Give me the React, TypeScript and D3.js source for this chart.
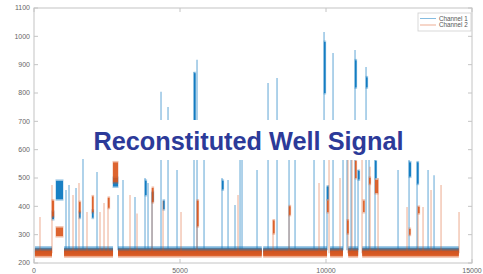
import * as d3 from 'd3'

const WIDTH = 483
const HEIGHT = 274
const BLUE = '#0072bd'
const ORANGE = '#d95319'
const AXIS = '#c4c4c4'

const X_TICKS = [0, 5000, 10000, 15000]
const Y_TICKS = [200, 300, 400, 500, 600, 700, 800, 900, 1000, 1100]

// recording extent and stretches where the baseline is absent (signal elevated)
const RUN: [number, number] = [30, 14550]
const BASE_GAPS: [number, number][] = [
  [616, 1030],
  [2706, 2877],
  [7800, 7850],
  [10035, 10140],
  [10580, 10760],
  [11100, 11240],
]

// baseline noise band [outer low, core low, core high, outer high]
const CH1_BAND: [number, number, number, number] = [230, 238, 252, 259]
const CH2_BAND: [number, number, number, number] = [219, 225, 244, 251]

// thin spikes: [sample, peak]
const CH1_SPIKES: [number, number][] = [
  [1096, 458], [1199, 475], [1439, 465], [1678, 567], [2158, 521],
  [2877, 440], [3048, 493], [3459, 433], [3802, 500], [3905, 482],
  [4042, 450], [4350, 804], [4590, 751], [4898, 528], [5480, 874],
  [5583, 917], [5823, 610], [6439, 500], [6645, 493], [6884, 405],
  [7056, 610], [7124, 610], [7638, 528], [8015, 835], [8323, 853],
  [8734, 610], [8940, 610], [9590, 610], [9933, 1015], [10035, 470],
  [10241, 941], [10583, 610], [10720, 610], [10857, 610], [10994, 952],
  [11097, 528], [11371, 892], [11474, 610], [11679, 610], [12467, 528],
  [12844, 610], [13118, 557], [13495, 528], [13700, 510],
]
const CH2_SPIKES: [number, number][] = [
  [205, 362], [616, 475], [1336, 440], [1541, 482], [1815, 380],
  [2261, 380], [2398, 412], [2535, 430], [3288, 440], [3528, 375],
  [4042, 465], [4419, 420], [5035, 380], [5583, 420], [6987, 440],
  [8186, 352], [8734, 400], [9761, 482], [10104, 600], [10480, 500],
  [10754, 600], [10891, 600], [11234, 600], [11508, 540], [11782, 500],
  [12775, 398], [13152, 400], [13323, 398], [13597, 458], [13940, 475],
  [14556, 380],
]

// dense plateaus: [start, end, low, high]
const CH1_BLOCKS: [number, number, number, number][] = [
  [616, 685, 355, 380], [753, 993, 425, 490], [1541, 1576, 360, 380],
  [1986, 2021, 360, 385], [2706, 2877, 470, 500], [3802, 3830, 440, 490],
  [4042, 4070, 420, 450], [4419, 4445, 390, 420], [5480, 5510, 700, 870],
  [6439, 6465, 460, 490], [9933, 9960, 800, 980], [10035, 10070, 425, 470],
  [10994, 11020, 820, 915], [11097, 11125, 495, 525], [11371, 11395, 820, 855],
  [11679, 11710, 500, 560], [12844, 12912, 505, 555], [13118, 13152, 480, 555],
]
const CH2_BLOCKS: [number, number, number, number][] = [
  [616, 685, 365, 420], [753, 993, 295, 325], [1541, 1576, 380, 415],
  [1986, 2021, 380, 435], [2535, 2570, 395, 430], [2706, 2877, 485, 555],
  [4042, 4070, 415, 465], [5583, 5610, 330, 420], [8186, 8215, 305, 350],
  [8734, 8760, 370, 400], [10035, 10070, 380, 420], [10720, 10750, 305, 350],
  [10994, 11030, 500, 560], [11268, 11300, 380, 420], [11474, 11500, 480, 500],
  [11679, 11782, 447, 493], [12844, 12870, 300, 320], [13152, 13180, 376, 398],
]

const LEGEND = ['Channel 1', 'Channel 2']
const TITLE = 'Reconstituted Well Signal'

const x = d3.scaleLinear().domain([0, 15000]).range([34, 472])
const y = d3.scaleLinear().domain([200, 1100]).range([263, 8])

function baseSegments(): [number, number][] {
  const segs: [number, number][] = []
  let start = RUN[0]
  for (const [g0, g1] of BASE_GAPS) {
    segs.push([start, g0])
    start = g1
  }
  segs.push([start, RUN[1]])
  return segs
}

function Channel({
  color,
  band,
  spikes,
  blocks,
  spikeOpacity,
}: {
  color: string
  band: [number, number, number, number]
  spikes: [number, number][]
  blocks: [number, number, number, number][]
  spikeOpacity: number
}) {
  const base = (band[1] + band[2]) / 2
  return (
    <g>
      {spikes.map(([s, p], i) => (
        <line
          key={'s' + i}
          x1={x(s)}
          x2={x(s)}
          y1={y(base)}
          y2={y(p)}
          stroke={color}
          strokeOpacity={spikeOpacity}
          strokeWidth={1.4}
        />
      ))}
      {blocks.map(([s0, s1, lo, hi], i) => (
        <g key={'b' + i}>
          <rect
            x={x(s0) - 0.5}
            y={y(hi) - 1.5}
            width={Math.max(x(s1) - x(s0), 1.6) + 1}
            height={y(lo) - y(hi) + 3}
            fill={color}
            opacity={0.35}
          />
          <rect
            x={x(s0)}
            y={y(hi)}
            width={Math.max(x(s1) - x(s0), 1.6)}
            height={y(lo) - y(hi)}
            fill={color}
            opacity={0.85}
          />
        </g>
      ))}
      {baseSegments().map(([s0, s1], i) => (
        <g key={'r' + i}>
          <rect
            x={x(s0)}
            y={y(band[3])}
            width={x(s1) - x(s0)}
            height={y(band[0]) - y(band[3])}
            fill={color}
            opacity={0.5}
          />
          <rect
            x={x(s0)}
            y={y(band[2])}
            width={x(s1) - x(s0)}
            height={y(band[1]) - y(band[2])}
            fill={color}
            opacity={0.9}
          />
        </g>
      ))}
    </g>
  )
}

export default function App() {
  const [x0, x1] = x.range()
  const [yb, yt] = y.range()
  const font = 'Liberation Sans, Arial, sans-serif'
  return (
    <div style={{ position: 'absolute', left: 0, top: 0 }}>
      <svg width={WIDTH} height={HEIGHT} style={{ display: 'block', background: '#fff' }}>
        <Channel color={BLUE} band={CH1_BAND} spikes={CH1_SPIKES} blocks={CH1_BLOCKS} spikeOpacity={0.45} />
        <Channel color={ORANGE} band={CH2_BAND} spikes={CH2_SPIKES} blocks={CH2_BLOCKS} spikeOpacity={0.35} />

        {/* axes box */}
        <rect x={x0} y={yt} width={x1 - x0} height={yb - yt} fill="none" stroke={AXIS} strokeWidth={1} />
        {Y_TICKS.map((t) => (
          <g key={'y' + t}>
            <line x1={x0} x2={x0 + 4} y1={y(t)} y2={y(t)} stroke={AXIS} />
            <line x1={x1} x2={x1 - 4} y1={y(t)} y2={y(t)} stroke={AXIS} />
            <text x={x0 - 4} y={y(t)} dy="0.35em" textAnchor="end" fontSize={7} fill="#666" fontFamily={font}>
              {t}
            </text>
          </g>
        ))}
        {X_TICKS.map((t) => (
          <g key={'x' + t}>
            <line x1={x(t)} x2={x(t)} y1={yb} y2={yb - 4} stroke={AXIS} />
            <line x1={x(t)} x2={x(t)} y1={yt} y2={yt + 4} stroke={AXIS} />
            <text x={x(t)} y={yb + 10} textAnchor="middle" fontSize={7} fill="#666" fontFamily={font}>
              {t}
            </text>
          </g>
        ))}

        {/* legend */}
        <rect x={418} y={13} width={53} height={18} fill="#fff" stroke="#cfcfcf" strokeWidth={0.8} />
        {LEGEND.map((label, i) => (
          <g key={label}>
            <line x1={420} x2={436} y1={18.5 + i * 6.5} y2={18.5 + i * 6.5} stroke={i === 0 ? BLUE : ORANGE} strokeWidth={0.8} strokeOpacity={0.6} />
            <text x={439} y={18.5 + i * 6.5} dy="0.35em" fontSize={6.3} fill="#555" fontFamily={font}>
              {label}
            </text>
          </g>
        ))}

        {/* title overlay */}
        <rect x={88} y={120} width={322} height={40} fill="#fff" />
        <text x={248.5} y={150} textAnchor="middle" fontSize={25.3} fontWeight="bold" fill="#2c3a99" fontFamily={font}>
          {TITLE}
        </text>
      </svg>
    </div>
  )
}
